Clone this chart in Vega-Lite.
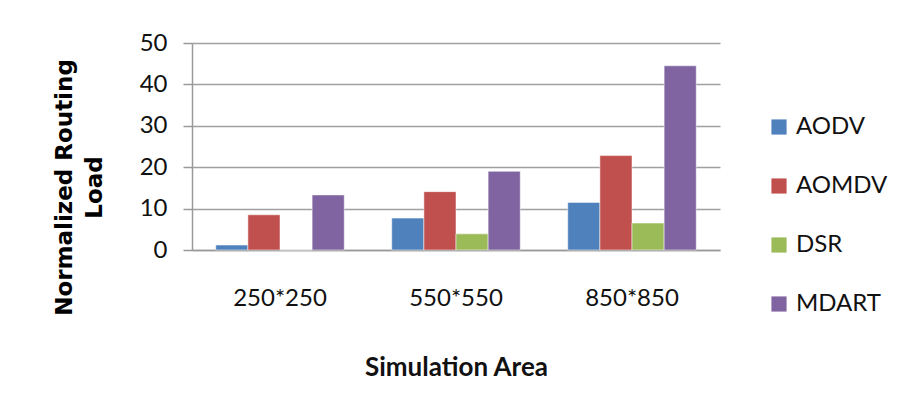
{
  "$schema": "https://vega.github.io/schema/vega-lite/v6.json",
  "width": 528,
  "height": 207,
  "autosize": {"type": "none"},
  "padding": {"left": 192, "top": 43, "right": 185, "bottom": 169},
  "background": "white",
  "data": {"values": [
    {"area": "250*250", "protocol": "AODV", "load": 1.2},
    {"area": "250*250", "protocol": "AOMDV", "load": 8.5},
    {"area": "250*250", "protocol": "DSR", "load": 0},
    {"area": "250*250", "protocol": "MDART", "load": 13.3},
    {"area": "550*550", "protocol": "AODV", "load": 7.7},
    {"area": "550*550", "protocol": "AOMDV", "load": 14.1},
    {"area": "550*550", "protocol": "DSR", "load": 3.9},
    {"area": "550*550", "protocol": "MDART", "load": 19.0},
    {"area": "850*850", "protocol": "AODV", "load": 11.5},
    {"area": "850*850", "protocol": "AOMDV", "load": 22.8},
    {"area": "850*850", "protocol": "DSR", "load": 6.5},
    {"area": "850*850", "protocol": "MDART", "load": 44.5}
  ]},
  "mark": {"type": "bar", "stroke": "white", "strokeWidth": 0.5},
  "encoding": {
    "x": {
      "field": "area", "type": "nominal", "sort": null,
      "scale": {"paddingInner": 0.27, "paddingOuter": 0.135},
      "axis": {
        "title": "Simulation Area", "labelAngle": 0, "ticks": false,
        "labelPadding": 36, "labelFont": "Lato", "labelFontSize": 24,
        "labelColor": "#111", "titleFont": "Lato", "titleFontSize": 26,
        "titleFontWeight": "bold", "titleColor": "#111", "titlePadding": 44,
        "domainColor": "#999", "domainWidth": 1.5
      }
    },
    "xOffset": {"field": "protocol", "type": "nominal", "sort": ["AODV", "AOMDV", "DSR", "MDART"], "scale": {"paddingInner": 0, "paddingOuter": 0}},
    "y": {
      "field": "load", "type": "quantitative",
      "scale": {"domain": [0, 50], "nice": false},
      "axis": {
        "title": ["Normalized Routing", "Load"], "values": [0, 10, 20, 30, 40, 50],
        "tickSize": 9, "tickColor": "#999", "tickWidth": 1.5, "labelPadding": 16,
        "labelFont": "Lato", "labelFontSize": 24, "labelColor": "#111",
        "grid": true, "gridColor": "#a0a0a0", "gridWidth": 1.5,
        "domainColor": "#999", "domainWidth": 1.5,
        "titleFont": "DejaVu Sans", "titleFontSize": 23, "titleFontWeight": "bold",
        "titleColor": "#000", "titleX": -116, "titleY": 144, "titleLineHeight": 30
      }
    },
    "color": {
      "field": "protocol", "type": "nominal", "sort": ["AODV", "AOMDV", "DSR", "MDART"],
      "scale": {"domain": ["AODV", "AOMDV", "DSR", "MDART"], "range": ["#4F81BD", "#C0504D", "#9BBB59", "#8064A2"]},
      "legend": {
        "title": null, "orient": "none", "legendX": 575, "legendY": 72,
        "symbolType": "square", "symbolSize": 230, "symbolStrokeWidth": 0,
        "labelFont": "Lato", "labelFontSize": 24, "labelColor": "#111",
        "rowPadding": 35, "labelOffset": 5
      }
    }
  },
  "config": {"view": {"stroke": null}}
}
